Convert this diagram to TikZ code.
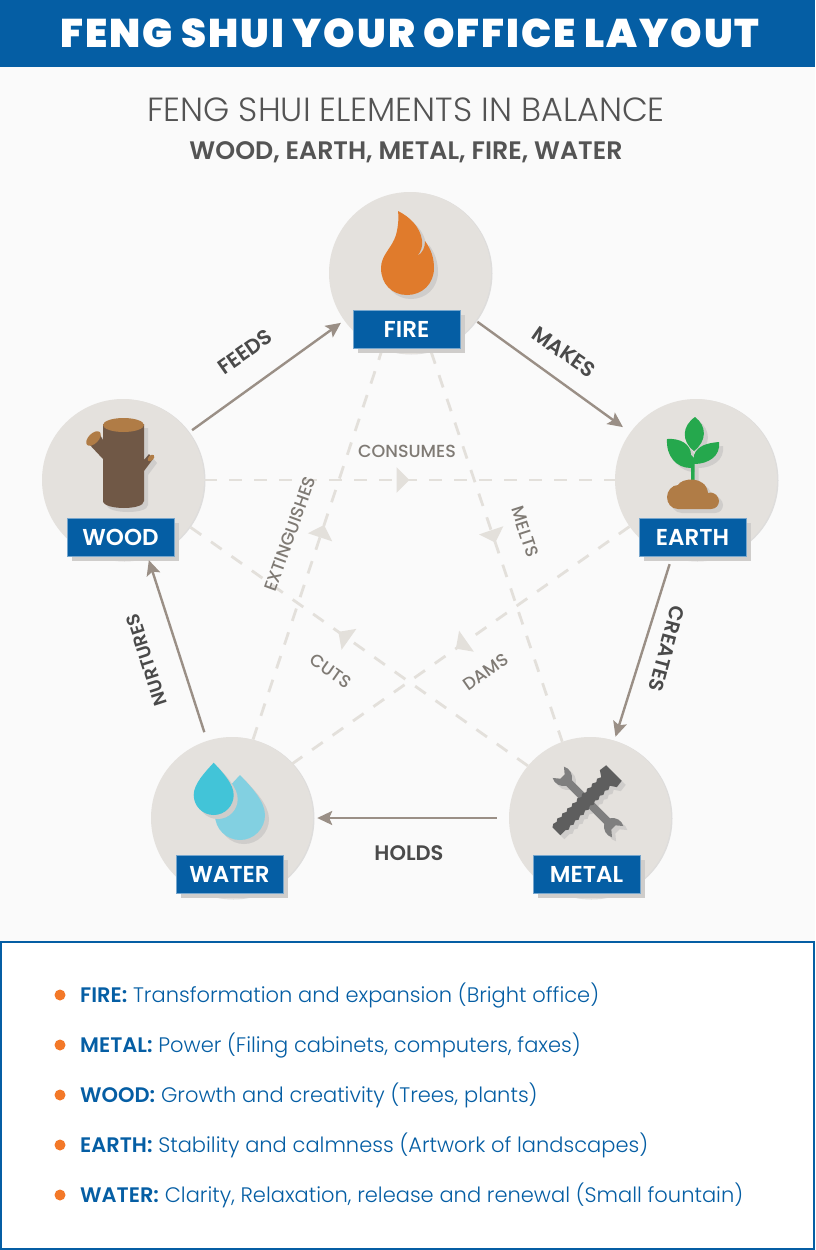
\documentclass[tikz,border=0pt]{standalone}
\usepackage{fontspec}
\setmainfont{Poppins}
\newfontfamily\lightfont{Poppins Light}
\newfontfamily\heavyfont[LetterSpace=4.8]{Poppins Black}
\newfontfamily\midfont{Poppins SemiBold}
\newfontfamily\plainfont{Poppins Medium}
\usetikzlibrary{arrows.meta, positioning, shadows, decorations.markings}
\definecolor{headerblue}{RGB}{5, 94, 164}
\definecolor{pagegray}{RGB}{250, 250, 250}
\definecolor{circlegray}{RGB}{228, 225, 221}
\definecolor{rimgray}{RGB}{222, 221, 220}
\definecolor{shadowgray}{RGB}{207, 205, 203}
\definecolor{arrowtaupe}{RGB}{154, 143, 134}
\definecolor{dashtaupe}{RGB}{227, 224, 219}
\definecolor{dashtext}{RGB}{127, 122, 116}
\definecolor{darktext}{RGB}{74, 74, 74}
\definecolor{titlegray}{RGB}{84, 84, 84}
\definecolor{listorange}{RGB}{243, 120, 40}
\definecolor{fireorange}{RGB}{224, 123, 44}
\definecolor{trunkbrown}{RGB}{112, 88, 70}
\definecolor{capbrown}{RGB}{176, 124, 70}
\definecolor{leafgreen}{RGB}{37, 168, 77}
\definecolor{dropcyan}{RGB}{66, 196, 216}
\definecolor{droplight}{RGB}{130, 208, 225}
\definecolor{screwgray}{RGB}{94, 94, 94}
\definecolor{wrenchgray}{RGB}{127, 127, 127}
\tikzstyle{element} = [circle, minimum size=162pt, inner sep=0pt, fill=circlegray]
\tikzstyle{elemlabel} = [rectangle, minimum width=107pt, minimum height=38pt, inner sep=0pt, text=white, font=\midfont\fontsize{23}{23}\selectfont, draw=headerblue!55, line width=0.5pt, fill=headerblue, drop shadow={shadow xshift=5pt, shadow yshift=-5pt, fill=shadowgray, opacity=1}]
\tikzstyle{arrow} = [line width=2.4pt, arrowtaupe, -{Stealth[length=15pt, width=14pt, inset=3pt]}]
\tikzstyle{dashline} = [line width=2.8pt, dashtaupe, dash pattern=on 13pt off 12pt]
\tikzstyle{solidtext} = [darktext, font=\midfont\fontsize{21}{21}\selectfont]
\tikzstyle{dashlabel} = [dashtext, font=\plainfont\fontsize{17.5}{17.5}\selectfont]
\tikzstyle{dot} = [circle, minimum size=11pt, inner sep=0pt, fill=listorange]
\tikzstyle{listitem} = [anchor=base west, inner sep=0pt, text=headerblue, font=\lightfont\fontsize{21}{21}\selectfont]
\tikzstyle{iconshadow} = [shadowgray]
\tikzset{midtip/.style={postaction={decorate, decoration={markings, mark=at position #1 with {\arrow{Triangle[length=13pt, width=25pt]}}}}}}
\newcommand{\iconfill}[2]{\fill[iconshadow, shift={(4,4)}] #2; \fill[#1] #2;}
\newcommand{\droppath}[4]{(#1,#2) .. controls (#1+0.45*#4,#2+0.3*#3-0.3*#2) and (#1+#4,#3-0.55*#4) .. (#1+#4,#3) arc[start angle=0, end angle=-180, radius=#4pt] .. controls (#1-#4,#3-0.55*#4) and (#1-0.45*#4,#2+0.3*#3-0.3*#2) .. (#1,#2) -- cycle}
\newcommand{\wrenchicon}[1]{\begin{scope}[shift={(588,802)}, rotate=-45]
\fill[#1] (-27,-4) .. controls (-30,-9) and (-37,-11) .. (-42,-8) -- (-36,-3) -- (-36,3) -- (-42,8) .. controls (-37,11) and (-30,9) .. (-27,4) -- (27,4) .. controls (30,9) and (37,11) .. (42,8) -- (36,3) -- (36,-3) -- (42,-8) .. controls (37,-11) and (30,-9) .. (27,-4) -- cycle;
\end{scope}}
\newcommand{\screwicon}[1]{\begin{scope}[shift={(585,802)}, rotate=45]
\fill[#1] (-41,-5) -- (-38,-7) -- (-34,-6) -- (-31,-8) -- (-27,-6) -- (-24,-8) -- (-20,-6) -- (-17,-8) -- (-13,-6) -- (-10,-8) -- (-6,-6) -- (-3,-8) -- (1,-6) -- (4,-8) -- (8,-6) -- (11,-8) -- (15,-6) -- (18,-8) -- (22,-6) -- (25,-8) -- (29,-6) -- (33,-12) -- (41,-11) -- (41,11) -- (33,12) -- (29,6) -- (25,8) -- (22,6) -- (18,8) -- (15,6) -- (11,8) -- (8,6) -- (4,8) -- (1,6) -- (-3,8) -- (-6,6) -- (-10,8) -- (-13,6) -- (-17,8) -- (-20,6) -- (-24,8) -- (-27,6) -- (-31,8) -- (-34,6) -- (-41,6) -- cycle;
\end{scope}}

\begin{document}
\begin{tikzpicture}[x=1pt, y=-1pt, node distance=56pt]
\useasboundingbox (0,0) rectangle (815,1250);
\fill[pagegray] (0,0) rectangle (815,1250);

% Header
\fill[headerblue] (0,0) rectangle (815,67);
\node (title) at (410,33) [text=white, font=\heavyfont\fontsize{40}{40}\selectfont] {FENG SHUI YOUR OFFICE LAYOUT};
\node (subtitle) at (406,110) [text=titlegray, font=\lightfont\fontsize{33.5}{33.5}\selectfont] {FENG SHUI ELEMENTS IN BALANCE};
\node (names) at (406,152) [text=titlegray, font=\midfont\fontsize{25.3}{25.3}\selectfont] {WOOD, EARTH, METAL, FIRE, WATER};

% Rims
\fill[rimgray] (411.5,273.5) circle (81);
\fill[rimgray] (124.5,480.5) circle (81);
\fill[rimgray] (697.5,480.5) circle (81);
\fill[rimgray] (233.5,818.5) circle (81);
\fill[rimgray] (591.5,818.5) circle (81);

% Elements
\node (fire) at (410,273) [element] {};
\node (wood) at (123,480) [element] {};
\node (earth) at (696,480) [element] {};
\node (water) at (232,818) [element] {};
\node (metal) at (590,818) [element] {};

% Control cycle
\draw [dashline, midtip=0.5] (wood.0) -- (earth.180);
\draw [dashline, midtip=0.49] (fire.-75) -- (metal.110);
\draw [dashline, midtip=0.55] (water.75) -- (fire.-110);
\draw [dashline, midtip=0.56] (metal.140) -- (wood.-35);
\draw [dashline, midtip=0.515] (earth.215) -- (water.42);

% Flame
\iconfill{fireorange}{(398,211) .. controls (410,217) and (420,227) .. (422,240) .. controls (423,246) and (421,252) .. (417,256) .. controls (423,253) and (425,247) .. (425,241) .. controls (431,249) and (434,258) .. (434,268) .. controls (434,284) and (422,295) .. (407,295) .. controls (392,295) and (381,284) .. (381,268) .. controls (381,255) and (392,248) .. (396,235) .. controls (398,227) and (399,219) .. (398,211) -- cycle}

% Log
\iconfill{trunkbrown}{(103,424) -- (103,440) -- (99,433) -- (88,443) -- (103,459) -- (103,501) .. controls (103,506) and (115,508) .. (124,508) .. controls (133,508) and (144,506) .. (144,501) -- (144,471) -- (153,459) -- (149,454) -- (144,460) -- (144,424) -- cycle}
\fill[capbrown] (123.5,425) ellipse [x radius=20.5, y radius=7];
\fill[capbrown] (93.5,438.5) ellipse [x radius=9, y radius=5, rotate=45];
\fill[capbrown] (151,458) ellipse [x radius=4, y radius=2.5, rotate=45];

% Plant
\fill[iconshadow, shift={(4,4)}] (695,417) .. controls (707,426) and (707,441) .. (694,451) .. controls (681,441) and (682,426) .. (695,417) -- cycle;
\iconfill{leafgreen}{(667,439) .. controls (680,438) and (691,444) .. (691,455) -- (694,458) -- (694,455) .. controls (698,445) and (708,443) .. (719,442) .. controls (721,456) and (708,464) .. (694.5,464) -- (694.5,480) -- (691,480) -- (691,468) .. controls (676,468) and (666,456) .. (667,439) -- cycle}
\fill[leafgreen] (695,417) .. controls (707,426) and (707,441) .. (694,451) .. controls (681,441) and (682,426) .. (695,417) -- cycle;
\iconfill{capbrown}{(678,485) .. controls (681,478) and (706,475) .. (708,493) .. controls (715,491) and (719,497) .. (719,501) .. controls (719,505) and (716,509) .. (711,509) -- (678,509) .. controls (671,509) and (667,503) .. (667,497) .. controls (667,491) and (672,485) .. (678,485) -- cycle}

% Drops
\iconfill{droplight}{\droppath{240}{775}{815}{25}}
\iconfill{dropcyan}{\droppath{213.7}{762.7}{795}{20}}

% Tools
\begin{scope}[shift={(4,4)}]
\wrenchicon{iconshadow}
\screwicon{iconshadow}
\end{scope}
\wrenchicon{wrenchgray}
\screwicon{screwgray}

% Name plates
\node (firelabel) [elemlabel, below of=fire, xshift=-3.5pt] {FIRE};
\node (woodlabel) [elemlabel, below of=wood, xshift=-2.5pt, yshift=-1pt] {WOOD};
\node (earthlabel) [elemlabel, below of=earth, xshift=-3.5pt, yshift=-1pt] {EARTH};
\node (waterlabel) [elemlabel, below of=water, xshift=-2.5pt] {WATER};
\node (metallabel) [elemlabel, below of=metal, xshift=-3.5pt] {METAL};

% Creation cycle
\draw [arrow, shorten <=4pt, shorten >=4pt] (wood) -- (fire);
\draw [arrow, shorten <=2pt, shorten >=9pt] (fire) -- (earth);
\draw [arrow, shorten <=7pt, shorten >=4pt] (earth) -- (metal);
\draw [arrow, shorten <=12pt, shorten >=4pt] (metal) -- (water);
\draw [arrow, shorten <=9pt, shorten >=3pt] (water) -- (wood);

% Creation labels
\node (feeds) at (245,352) [solidtext, rotate=35] {FEEDS};
\node (makes) at (564,352) [solidtext, rotate=-35] {MAKES};
\node (creates) at (666.5,649) [solidtext, rotate=-105, font=\midfont\fontsize{20}{20}\selectfont] {CREATES};
\node (holds) at (409,853) [solidtext] {HOLDS};
\node (nurtures) at (147,660) [solidtext, rotate=108, font=\midfont\fontsize{18.5}{18.5}\selectfont] {NURTURES};

% Control labels
\node (consumes) at (407,451) [dashlabel] {CONSUMES};
\node (extinguishes) at (290,534) [dashlabel, rotate=70] {EXTINGUISHES};
\node (melts) at (525,532) [dashlabel, rotate=-72] {MELTS};
\node (cuts) at (331,671) [dashlabel, rotate=-35] {CUTS};
\node (dams) at (486,672) [dashlabel, rotate=35] {DAMS};

% List panel
\draw [headerblue, line width=2pt, fill=white] (1,942) rectangle (814,1249);
\node (firedot) at (60,995) [dot] {};
\node (metaldot) at (60,1045) [dot] {};
\node (wooddot) at (60,1095) [dot] {};
\node (earthdot) at (60,1145) [dot] {};
\node (waterdot) at (60,1195) [dot] {};
\node (firetext) at (80,1002) [listitem] {{\midfont FIRE:} Transformation and expansion (Bright office)};
\node (metaltext) at (80,1052) [listitem] {{\midfont METAL:} Power (Filing cabinets, computers, faxes)};
\node (woodtext) at (80,1102) [listitem] {{\midfont WOOD:} Growth and creativity (Trees, plants)};
\node (earthtext) at (80,1152) [listitem] {{\midfont EARTH:} Stability and calmness (Artwork of landscapes)};
\node (watertext) at (80,1202) [listitem] {{\midfont WATER:} Clarity, Relaxation, release and renewal (Small fountain)};

\end{tikzpicture}
\end{document}
